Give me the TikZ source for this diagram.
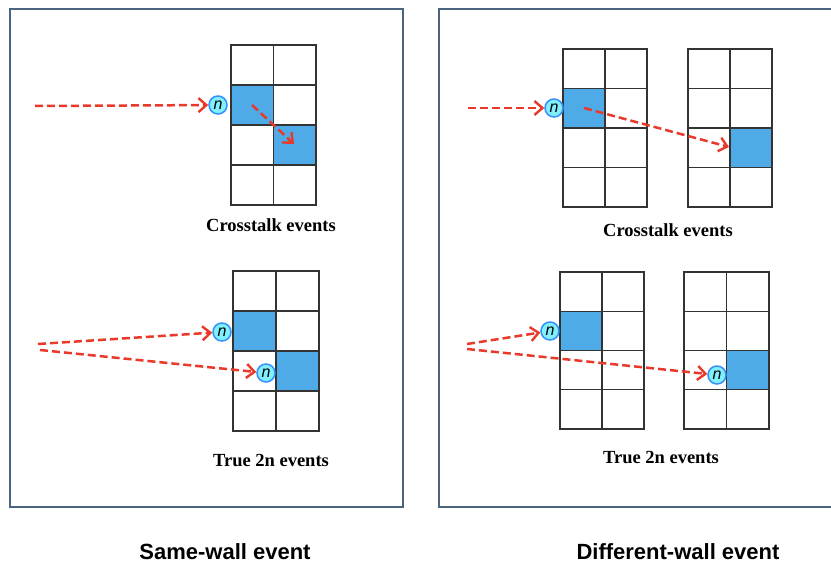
\documentclass[tikz,border=0pt]{standalone}
\usepackage{fontspec}
\setmainfont{Liberation Serif}
\newfontfamily\labelsans{Liberation Sans}
\usetikzlibrary{arrows.meta}
\definecolor{boxcol}{HTML}{4A6480}
\definecolor{cellblue}{HTML}{4EABE8}
\definecolor{arrowred}{HTML}{E8392B}
\definecolor{ncfill}{HTML}{80F0FF}
\definecolor{ncdraw}{HTML}{3590FA}
\definecolor{gridcol}{HTML}{333333}
\newcommand{\dgrid}[4]{%
  \draw[gridline] (#1,#2) rectangle ++(2*#3,4*#4);
  \draw[gridline] (#1+#3,#2) -- ++(0,4*#4);
  \foreach \k in {1,2,3} {\draw[gridline] (#1,#2+\k*#4) -- ++(2*#3,0);}
}
\newcommand{\bcell}[6]{%
  \fill[cellblue] (#1+#5*#3-#3,#2+#6*#4-#4) rectangle ++(#3,#4);
}
\begin{document}
\begin{tikzpicture}[x=1pt,y=-1pt,
  outerbox/.style={draw=boxcol,line width=2pt},
  gridline/.style={draw=gridcol,line width=1.3pt},
  neutron/.style={circle,draw=ncdraw,fill=ncfill,line width=1.5pt,minimum size=18pt,inner sep=0pt,font=\labelsans\itshape\fontsize{16}{16}\selectfont},
  track/.style={draw=arrowred,line width=2.5pt,dash pattern=on 8pt off 4pt,-{Straight Barb[length=8pt,width=14pt,line width=2.4pt]}},
  evlabel/.style={font=\bfseries\fontsize{18.5}{20}\selectfont},
  bottomlabel/.style={anchor=base,inner sep=0pt,font=\labelsans\bfseries\fontsize{22}{24}\selectfont}]
\useasboundingbox (0,0) rectangle (831,562);
% outer frames
\draw[outerbox] (10,9) rectangle (403,507);
\draw[outerbox] (834,9) -- (439,9) -- (439,507) -- (834,507);
% blue cells
\bcell{231}{45}{42.5}{40}{1}{2}
\bcell{231}{45}{42.5}{40}{2}{3}
\bcell{233}{271}{43}{40}{1}{2}
\bcell{233}{271}{43}{40}{2}{3}
\bcell{563}{49}{42}{39.5}{1}{2}
\bcell{688}{49}{42}{39.5}{2}{3}
\bcell{560}{272}{42}{39.25}{1}{2}
\bcell{684}{272}{42.5}{39.25}{2}{3}
% grids
\dgrid{231}{45}{42.5}{40}
\dgrid{233}{271}{43}{40}
\dgrid{563}{49}{42}{39.5}
\dgrid{688}{49}{42}{39.5}
\dgrid{560}{272}{42}{39.25}
\dgrid{684}{272}{42.5}{39.25}
% neutrons
\node[neutron] (n1) at (218,105) {n};
\node[neutron] (n2) at (222,332) {n};
\node[neutron] (n3) at (266,373) {n};
\node[neutron] (n4) at (554,108) {n};
\node[neutron] (n5) at (550,331) {n};
\node[neutron] (n6) at (717,375) {n};
% track ends
\coordinate (s1) at (35,106);
\coordinate (c1a) at (252,105);
\coordinate (c1b) at (294,144);
\coordinate (s2) at (38,344);
\coordinate (s3) at (40,350);
\coordinate (s4) at (468,108);
\coordinate (c2a) at (584,108);
\coordinate (c2b) at (729,147);
\coordinate (s5) at (467,344);
\coordinate (s6) at (467,349);
% tracks
\draw[track] (s1) -- (n1);
\draw[track] (c1a) -- (c1b);
\draw[track] (s2) -- (n2);
\draw[track] (s3) -- (n3);
\draw[track] (s4) -- (n4);
\draw[track] (c2a) -- (c2b);
\draw[track] (s5) -- (n5);
\draw[track] (s6) -- (n6);
% labels
\node[evlabel] (l1) at (271,225) {Crosstalk events};
\node[evlabel] (l2) at (668,230) {Crosstalk events};
\node[evlabel] (l3) at (271,460) {True 2n events};
\node[evlabel] (l4) at (661,457) {True 2n events};
\node[bottomlabel] (b1) at (225,559) {Same-wall event};
\node[bottomlabel] (b2) at (678,559) {Different-wall event};
\end{tikzpicture}
\end{document}
